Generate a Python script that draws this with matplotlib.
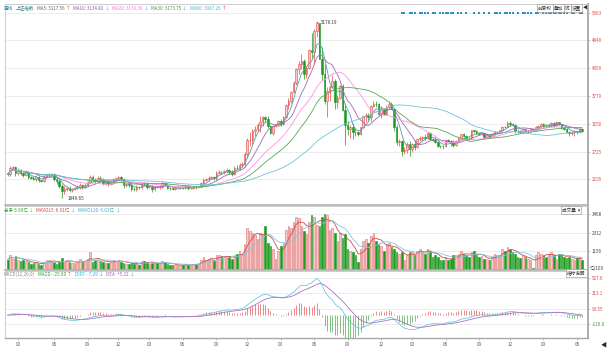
import numpy as np
import pandas as pd
import matplotlib
matplotlib.use("Agg")
import matplotlib.pyplot as plt

plt.rcParams["font.family"] = ["Noto Sans CJK SC", "DejaVu Sans"]

W, H = 607, 354
FS = 3.3

# weekly bars of the Shanghai Composite
START, END = "2013-01-25", "2017-06-16"
CLOSED_WEEKS = ["2013-02-15", "2013-10-04", "2014-01-31",
                "2014-10-03", "2016-02-12", "2016-10-07"]
FIRST_OPEN = 2315.0

closes = [
    # 2013
    2292, 2419, 2432, 2314, 2359, 2318, 2278, 2328, 2237, 2225,
    2206, 2244, 2177, 2174, 2247, 2282, 2288, 2301, 2210, 2162,
    2073, 1979, 2007, 2039, 1992, 2011, 2029, 2052, 2085, 2057,
    2098, 2139, 2236, 2191, 2160, 2228, 2193, 2133, 2149, 2106,
    2135, 2196, 2220, 2237, 2196, 2085, 2101,
    # 2014
    2083, 2013, 2004, 2054, 2044, 2115, 2113, 2056, 2057, 2004,
    2047, 2046, 2058, 2130, 2098, 2036, 2026, 2011, 2026, 2034,
    2039, 2029, 2070, 2024, 2036, 2059, 2047, 2059, 2126, 2185,
    2194, 2226, 2240, 2217, 2326, 2331, 2329, 2347, 2374, 2341,
    2302, 2420, 2418, 2478, 2487, 2683, 2938, 2938, 3108, 3157,
    # 2015
    3234, 3285, 3376, 3351, 3210, 3076, 3203, 3247, 3310, 3241,
    3372, 3617, 3691, 3863, 4034, 4287, 4393, 4441, 4205, 4308,
    4658, 4611, 5023, 5166, 4478, 4192, 3686, 3877, 3957, 4070,
    3663, 3744, 3965, 3507, 3232, 3160, 3200, 3097, 3092, 3053,
    3183, 3391, 3412, 3383, 3590, 3632, 3630, 3436, 3524, 3435,
    3578, 3627,
    # 2016
    3539, 3186, 2901, 2916, 2737, 2763, 2861, 2767, 2874, 2810,
    2955, 2979, 3009, 2985, 3078, 2959, 2938, 2913, 2827, 2825,
    2822, 2938, 2927, 2885, 2854, 2932, 2988, 3054, 3012, 2979,
    2976, 3125, 3108, 3070, 3067, 3078, 3002, 3033, 3004, 3063,
    3090, 3104, 3125, 3196, 3192, 3261, 3243, 3232, 3122, 3110,
    3104,
    # 2017
    3154, 3112, 3123, 3159, 3140, 3196, 3202, 3253, 3218, 3212,
    3237, 3269, 3223, 3287, 3246, 3173, 3155, 3103, 3083, 3091,
    3110, 3105, 3158, 3123,
]

# wick lengths above / below the candle body (index points)
upper_wick = [
    30, 40, 25, 20, 45, 30, 25, 40, 20, 25, 30, 20, 25, 15, 35, 20, 30, 25, 20, 30,
    40, 35, 60, 30, 40, 25, 20, 30, 35, 30, 25, 30, 50, 45, 30, 40, 35, 25, 20, 30,
    25, 35, 20, 30, 25, 20, 25,
    25, 20, 30, 35, 20, 30, 25, 35, 20, 25, 30, 20, 25, 30, 20, 25, 15, 20, 15, 15,
    20, 15, 25, 20, 15, 20, 15, 20, 25, 30, 25, 30, 20, 25, 30, 35, 30, 25, 30, 25,
    35, 30, 40, 30, 35, 40, 50, 153, 40, 60,
    40, 120, 25, 30, 55, 20, 10, 10, 10, 40, 20, 15, 60, 20, 40, 30, 50, 130, 40, 50,
    10, 328, 28, 12.19, 10, 240, 200, 80, 40, 114, 40, 60, 30, 41, 130, 80, 30, 60, 60, 20,
    10, 10, 40, 50, 10, 50, 50, 20, 60, 10, 40, 57,
    30, 10, 50, 50, 20, 50, 40, 70, 10, 70, 10, 40, 10, 40, 10, 10, 30, 60, 10, 30,
    30, 10, 20, 10, 50, 10, 20, 10, 30, 20, 25, 10, 15, 25, 30, 20, 20, 30, 10, 10,
    20, 20, 15, 20, 15, 40, 40, 30, 10, 30, 15,
    20, 20, 10, 10, 5, 10, 30, 10, 10, 30, 15, 10, 10, 10, 8, 10, 15, 10, 10, 20,
    20, 10, 5, 10,
]
lower_wick = [
    40, 25, 30, 60, 35, 30, 40, 25, 35, 30, 25, 40, 30, 30, 20, 25, 20, 30, 40, 45,
    50, 129.35, 70, 30, 40, 35, 25, 20, 30, 35, 25, 30, 20, 30, 40, 25, 30, 45, 35, 30,
    25, 20, 25, 30, 35, 50, 30,
    30, 40, 25, 20, 30, 25, 30, 35, 30, 40, 25, 20, 30, 25, 35, 30, 25, 20, 20, 15,
    20, 25, 20, 30, 20, 20, 25, 20, 15, 20, 25, 30, 20, 25, 30, 25, 30, 40, 30, 35,
    45, 30, 30, 35, 40, 60, 80, 104, 70, 90,
    60, 140, 80, 70, 30, 27, 40, 10, 30, 40, 20, 10, 80, 40, 30, 50, 90, 100, 105, 80,
    20, 110, 230, 120, 2, 100, 57, 313, 200, 30, 126, 110, 30, 17, 382, 120, 170, 130, 80, 30,
    10, 10, 110, 60, 70, 20, 50, 20, 80, 15, 10, 30,
    10, 70, 57, 65, 99, 50, 70, 130, 50, 60, 20, 30, 60, 35, 20, 20, 10, 30, 20, 25,
    40, 20, 20, 50, 50, 20, 10, 10, 20, 30, 35, 10, 25, 20, 20, 20, 20, 10, 20, 10,
    30, 20, 30, 10, 20, 10, 30, 30, 40, 30, 20,
    10, 20, 20, 10, 5, 10, 10, 20, 20, 10, 10, 20, 30, 20, 20, 20, 20, 10, 67, 40,
    70, 40, 20, 20,
]

volumes = [
    650, 900, 700, 850, 620, 560, 600, 540, 520, 350, 430, 480, 380, 300, 520, 600, 640, 560, 520, 380,
    500, 720, 520, 620, 480, 460, 420, 500, 680, 520, 520, 700, 1100, 520, 600, 620, 580, 520, 440, 430,
    520, 620, 560, 600, 480, 460, 400,
    380, 420, 360, 420, 280, 560, 580, 520, 380, 420, 430, 420, 350, 560, 480, 400, 280, 320, 330, 300,
    300, 280, 380, 330, 300, 380, 380, 400, 620, 800, 620, 700, 720, 600, 900, 900, 880, 820, 720, 880,
    700, 900, 1000, 1150, 1000, 1600, 2600, 2400, 2300, 2150,
    1900, 2300, 2200, 2700, 1700, 1500, 1300, 700, 1200, 1500, 1700, 2500, 2700, 2600, 3000, 3300, 3200, 2700, 2400, 2200,
    3000, 3400, 3300, 2800, 2700, 3300, 3450, 3400, 2500, 2600, 2300, 1800, 2300, 2000, 2200, 1300, 1200, 1100, 900, 500,
    1300, 1800, 1900, 1700, 2100, 2300, 1800, 1600, 1500, 1200, 1600, 1700,
    1400, 1300, 1100, 1000, 1100, 600, 900, 1100, 1200, 900, 1200, 1300, 1100, 1000, 1300, 1200, 800, 900, 800, 650,
    650, 800, 600, 700, 900, 900, 1000, 1200, 1000, 900, 800, 1100, 1200, 900, 800, 850, 700, 700, 600, 800,
    1000, 900, 950, 1300, 1200, 1400, 1300, 1100, 1000, 800, 750,
    900, 800, 700, 600, 150, 900, 1100, 1000, 900, 800, 1000, 1100, 900, 700, 1000, 1000, 800, 750, 800, 700,
    650, 720, 795, 590,
]

# weeks flagged with a signal dot on the top row, starting at SIGNAL_FROM
SIGNAL_FROM = "2016-01-29"
signal_flags = [1, 1, 0, 1, 1, 1, 0, 1, 1, 1, 1, 0, 1, 1, 0, 1, 1, 1, 1,
                1, 1, 0, 1, 1, 0, 1, 0, 0, 1,
                0, 1, 0, 1, 0, 1, 0, 1, 1, 1, 0,
                1, 1, 1, 1, 0, 1, 0,
                1, 1, 1, 1, 0, 1, 1, 0,
                1, 1, 1, 1, 1, 1, 1, 1, 1, 1,
                0, 1, 1, 0, 1, 1]

main_ticks = [2195, 2725, 3250, 3779, 4309, 4840, 5363]
vol_ticks = [1156, 2312, 3468]
macd_ticks = [-126.0, 93.55, 313.1, 527.6]

# header pieces: (text, colour, gap after in px)
header_main = [("周线", "#2a7f8f", 2), ("上证指数", "#2a7f8f", 3),
               ("MA5: 3117.56", "#666666", 1), ("↑", "#e03030", 3),
               ("MA10: 3134.82", "#8e5b9e", 1), ("↓", "#22b0d8", 3),
               ("MA20: 3179.39", "#ff70d8", 1), ("↓", "#22b0d8", 3),
               ("MA30: 3173.75", "#3c9a3c", 1), ("↓", "#22b0d8", 3),
               ("MA60: 3087.26", "#4fb4d4", 1), ("↑", "#e03030", 0)]
header_vol = [("总手 5.90亿", "#2f9e2f", 1), ("↓", "#22b0d8", 3),
              ("MAVOL5: 6.91亿", "#d04848", 1), ("↓", "#22b0d8", 3),
              ("MAVOL10: 6.01亿", "#40a8c8", 1), ("↓", "#22b0d8", 0)]
header_macd = [("MACD(12,26,9)", "#888888", 3), ("MACD: -25.00", "#2f9e2f", 1),
               ("↑", "#e03030", 3), ("DIFF: -7.29", "#22b0d8", 1),
               ("↓", "#22b0d8", 3), ("DEA: +5.22", "#a060b8", 1),
               ("↓", "#22b0d8", 0)]

UP_FACE, UP_EDGE = "#f8c8c8", "#e04a40"
DOWN = "#1e9a1e"
MA_COLORS = {5: "#5a9ea6", 10: "#9b6bb0", 20: "#ff90e8", 30: "#5aa55a", 60: "#6cc4dc"}
GRID = "#e4e4e4"
FRAME = "#c4c4c4"

dates = pd.date_range(START, END, freq="W-FRI").drop(pd.to_datetime(CLOSED_WEEKS))
close = np.array(closes, dtype=float)
opens = np.r_[FIRST_OPEN, close[:-1]]
highs = np.maximum(opens, close) + np.array(upper_wick)
lows = np.minimum(opens, close) - np.array(lower_wick)
vol = np.array(volumes, dtype=float)
x = np.arange(len(close))
up = close >= opens
s = pd.Series(close)


def fig_px(px, py):
    return px / W, 1 - py / H


def setup(ax, ylim, ticks, labels, colors, grid=True):
    ax.set_xlim(-1.05, 225.3)
    ax.set_ylim(*ylim)
    ax.yaxis.tick_right()
    ax.set_yticks(ticks)
    ax.set_yticklabels(labels, fontsize=FS)
    for lab, c in zip(ax.get_yticklabels(), colors):
        lab.set_color(c)
    ax.tick_params(axis="y", length=1.5, width=0.4, pad=1.2, color="#999999")
    ax.tick_params(axis="x", bottom=False, labelbottom=False)
    if grid:
        for t in ticks:
            ax.axhline(t, color=GRID, lw=0.5, zorder=0)
    for side in ["left", "top", "bottom"]:
        ax.spines[side].set_color(FRAME)
        ax.spines[side].set_linewidth(0.6)
    ax.spines["right"].set_color("#a8a8a8")
    ax.spines["right"].set_linewidth(1.3)


fig = plt.figure(figsize=(W / 100, H / 100), dpi=100)
fig.patch.set_facecolor("white")
left, width = 5 / W, 583 / W
ax_k = fig.add_axes([left, 1 - 205 / H, width, 201 / H])
ax_v = fig.add_axes([left, 1 - 270 / H, width, 64 / H])
ax_m = fig.add_axes([left, 1 - 338 / H, width, 67 / H])

# --- candles + moving averages
setup(ax_k, (1709, 5528), main_ticks, [str(t) for t in main_ticks],
      ["#e04848"] * len(main_ticks))
ax_k.spines["bottom"].set_linewidth(1.2)
ax_k.spines["bottom"].set_color("#b0b0b0")
edge = np.where(up, UP_EDGE, DOWN)
face = np.where(up, UP_FACE, DOWN)
ax_k.vlines(x, lows, highs, colors=edge, lw=0.5, zorder=2)
ax_k.bar(x, np.abs(close - opens), bottom=np.minimum(opens, close), width=0.62,
         color=face, edgecolor=edge, linewidth=0.4, zorder=3)
for n, c in MA_COLORS.items():
    ax_k.plot(x, s.rolling(n, min_periods=1).mean(), color=c, lw=0.6, zorder=4)

hi_i = int(np.argmax(highs))
lo_i = int(np.argmin(lows))
ax_k.annotate(f"{highs[hi_i]:.2f}", xy=(hi_i, highs[hi_i]), xytext=(3, 0),
              textcoords="offset points", va="center", fontsize=FS, color="#333333",
              arrowprops=dict(arrowstyle="-", lw=0.4, color="#333333"))
ax_k.annotate(f"{lows[lo_i]:.2f}", xy=(lo_i, lows[lo_i]), xytext=(4, -1),
              textcoords="offset points", va="center", fontsize=FS, color="#333333",
              arrowprops=dict(arrowstyle="-", lw=0.4, color="#333333"))

sig_start = int(np.searchsorted(dates, pd.Timestamp(SIGNAL_FROM)))
sig_x = [sig_start + i for i, f in enumerate(signal_flags) if f]
ax_k.scatter(sig_x, [main_ticks[-1]] * len(sig_x), marker="s", s=1.4,
             color="#2b8fd0", linewidths=0, zorder=5)

# --- volume
setup(ax_v, (0, 3963), vol_ticks, [str(t) for t in vol_ticks], ["#444444"] * 3)
ax_v.spines["bottom"].set_linewidth(1.2)
ax_v.spines["bottom"].set_color("#b0b0b0")
ax_v.bar(x, vol, width=0.62, color=np.where(up, UP_FACE, DOWN),
         edgecolor=np.where(up, "#e07070", DOWN), linewidth=0.4, zorder=2)
vs = pd.Series(vol)
ax_v.plot(x, vs.rolling(5, min_periods=1).mean(), color="#c8504a", lw=0.6, zorder=3)
ax_v.plot(x, vs.rolling(10, min_periods=1).mean(), color="#80c8e0", lw=0.6, zorder=3)
fig.text(590 / W, 1 - 268 / H, "亿/100", fontsize=FS, color="#444444", va="center")

# --- MACD
ema12 = s.ewm(span=12, adjust=False).mean()
ema26 = s.ewm(span=26, adjust=False).mean()
dif = ema12 - ema26
dea = dif.ewm(span=9, adjust=False).mean()
hist = 2 * (dif - dea)
setup(ax_m, (-327, 632), macd_ticks, ["-126.0", "93.55", "313.1", "527.6"],
      ["#2f9e2f", "#e04848", "#e04848", "#e04848"])
ax_m.vlines(x, 0, hist, colors=np.where(hist >= 0, "#e05a5a", "#4caa4c"), lw=0.5, zorder=2)
ax_m.plot(x, dif, color="#6cc8e0", lw=0.6, zorder=3)
ax_m.plot(x, dea, color="#b070c0", lw=0.6, zorder=3)

is_q = [(i > 0 and dates[i].month != dates[i - 1].month and dates[i].month in (3, 6, 9, 12))
        for i in range(len(dates))]
tick_i = [i for i, q in enumerate(is_q) if q]
ax_m.set_xticks(tick_i)
ax_m.set_xticklabels([f"{dates[i].month:02d}" for i in tick_i], fontsize=FS, color="#555555")
ax_m.tick_params(axis="x", bottom=True, labelbottom=True, length=1.5, width=0.4,
                 pad=1.5, color="#888888")
ax_m.spines["bottom"].set_color("#a8a8a8")
ax_m.spines["bottom"].set_linewidth(1.0)

# --- header texts, laid out one after another
renderer = fig.canvas.get_renderer()
for items, py in [(header_main, 8), (header_vol, 210), (header_macd, 274)]:
    cur = 4
    for txt, col, gap in items:
        fx, fy = fig_px(cur, py)
        t = fig.text(fx, fy, txt, fontsize=FS, color=col, va="center", ha="left")
        cur += t.get_window_extent(renderer).width + gap

# --- little buttons
box = dict(boxstyle="square,pad=0.25", fc="white", ec="#8a8a8a", lw=0.4)
for txt, px in [("前复权", 538), ("叠加", 554), ("统", 565), ("设置", 572)]:
    fx, fy = fig_px(px, 8)
    fig.text(fx, fy, txt, fontsize=FS, color="#333333", va="center", bbox=box)
fx, fy = fig_px(583, 8)
fig.text(fx, fy, "◀", fontsize=FS, color="#222222", va="center")
fx, fy = fig_px(562, 210)
fig.text(fx, fy, "成交量  ▾", fontsize=FS, color="#333333", va="center", bbox=box)
fx, fy = fig_px(567, 273)
fig.text(fx, fy, "指标说明", fontsize=FS, color="#333333", va="center", bbox=box)
fx, fy = fig_px(601, 345)
fig.text(fx, fy, "◀", fontsize=FS + 1, color="#222222", va="center")

fig.savefig("out.png", dpi=100)
